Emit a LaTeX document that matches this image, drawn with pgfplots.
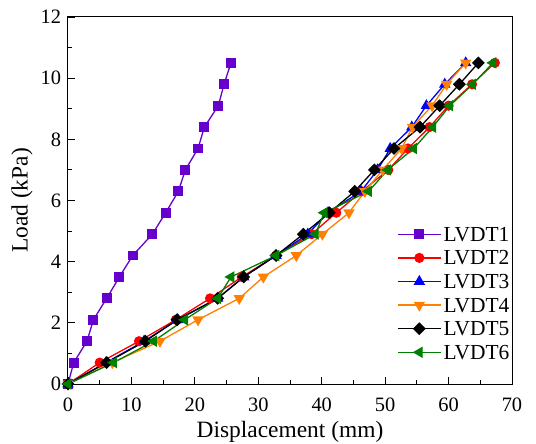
\documentclass[border=0pt]{standalone}
\usepackage{fontspec}
\setmainfont{Liberation Serif}
\usepackage{pgfplots}
\pgfplotsset{compat=1.18}

\definecolor{cPurple}{RGB}{102,0,204}
\definecolor{cRed}{RGB}{255,0,0}
\definecolor{cBlue}{RGB}{0,0,255}
\definecolor{cOrange}{RGB}{255,128,0}
\definecolor{cGreen}{RGB}{0,128,0}

\begin{document}
\begin{tikzpicture}
\begin{axis}[
  scale only axis,
  width=444bp, height=367bp,
  xmin=0, xmax=70, ymin=0, ymax=12,
  xtick distance=10, ytick distance=2,
  minor x tick num=1, minor y tick num=1,
  xtick pos=bottom, ytick pos=left,
  tick align=inside,
  major tick length=7bp, minor tick length=4bp,
  every tick/.style={black, line width=0.9bp},
  axis line style={line width=1bp},
  /pgf/number format/assume math mode=true,
  ticklabel style={font=\rmfamily\fontsize{20.5}{24}\selectfont},
  xticklabel style={anchor=base, yshift=-27.5bp},
  yticklabel style={anchor=east, xshift=-3.5bp},
  xlabel={Displacement (mm)},
  ylabel={Load (kPa)},
  label style={font=\rmfamily\fontsize{23.5}{27}\selectfont},
  xlabel style={at={(axis description cs:0.5,-0.147)}, anchor=base},
  ylabel style={at={(axis description cs:-0.1036,0.5)}, anchor=center},
  every axis plot/.append style={line width=1.3bp},
  legend cell align=left,
  legend image code/.code={\draw[mark repeat=2,mark phase=2] plot coordinates {(0bp,0bp) (21.5bp,0bp) (43bp,0bp)};},
  legend style={draw=none, fill=none, inner sep=0pt,
    at={(rel axis cs:0.741,0.433)}, anchor=north west,
    font=\rmfamily\fontsize{21.5}{24}\selectfont,
    nodes={inner sep=2bp, text height=14bp, text depth=0bp},
    row sep=5.6bp},
]
\addplot[cPurple, mark=square*, mark size=4.3bp] coordinates {
 (0,0) (0.9,0.7) (3.0,1.4) (4.0,2.1) (6.1,2.8) (8.1,3.5) (10.2,4.2) (13.3,4.9)
 (15.4,5.6) (17.4,6.3) (18.5,7.0) (20.5,7.7) (21.5,8.4) (23.7,9.1) (24.6,9.8) (25.7,10.5)};
\addlegendentry{LVDT1}
\addplot[cRed, mark=*, mark size=4.4bp] coordinates {
 (0,0) (5.0,0.7) (11.2,1.4) (17.0,2.1) (22.4,2.8) (27.4,3.5) (32.8,4.2) (38.4,4.9)
 (42.3,5.6) (46.3,6.3) (50.5,7.0) (53.6,7.7) (57.0,8.4) (60.0,9.1) (63.7,9.8) (67.3,10.5)};
\addlegendentry{LVDT2}
\addplot[cBlue, mark=triangle*, mark size=5.3bp] coordinates {
 (0,0) (6.0,0.7) (12.0,1.4) (17.3,2.1) (23.6,2.8) (27.7,3.5) (32.8,4.2) (37.8,4.9)
 (41.0,5.6) (46.2,6.3) (48.8,7.0) (50.8,7.7) (54.2,8.4) (56.5,9.1) (59.4,9.8) (62.7,10.5)};
\addlegendentry{LVDT3}
\addplot[cOrange, mark=triangle*, mark size=5.3bp, mark options={rotate=180}] coordinates {
 (0,0) (7.0,0.7) (14.5,1.4) (20.5,2.1) (27.0,2.8) (30.8,3.5) (36.0,4.2) (40.1,4.9)
 (44.3,5.6) (46.8,6.3) (49.6,7.0) (52.6,7.7) (54.3,8.4) (57.4,9.1) (59.7,9.8) (62.7,10.5)};
\addlegendentry{LVDT4}
\addplot[black, mark=square*, mark size=3.9bp, mark options={rotate=45}] coordinates {
 (0,0) (6.1,0.7) (12.2,1.4) (17.2,2.1) (23.6,2.8) (27.7,3.5) (32.8,4.2) (37.1,4.9)
 (41.2,5.6) (45.2,6.3) (48.3,7.0) (51.4,7.7) (55.5,8.4) (58.6,9.1) (61.7,9.8) (64.7,10.5)};
\addlegendentry{LVDT5}
\addplot[cGreen, mark=triangle*, mark size=5.3bp, mark options={rotate=90}] coordinates {
 (0,0) (7.2,0.7) (13.5,1.4) (18.4,2.1) (23.6,2.8) (25.7,3.5) (32.8,4.2) (39.0,4.9)
 (40.4,5.6) (47.4,6.3) (50.4,7.0) (54.5,7.7) (57.5,8.4) (60.2,9.1) (63.8,9.8) (67.0,10.5)};
\addlegendentry{LVDT6}
\end{axis}
\pgfresetboundingbox
\path (-68bp,-60bp) rectangle (468bp,384bp);
\end{tikzpicture}
\end{document}
